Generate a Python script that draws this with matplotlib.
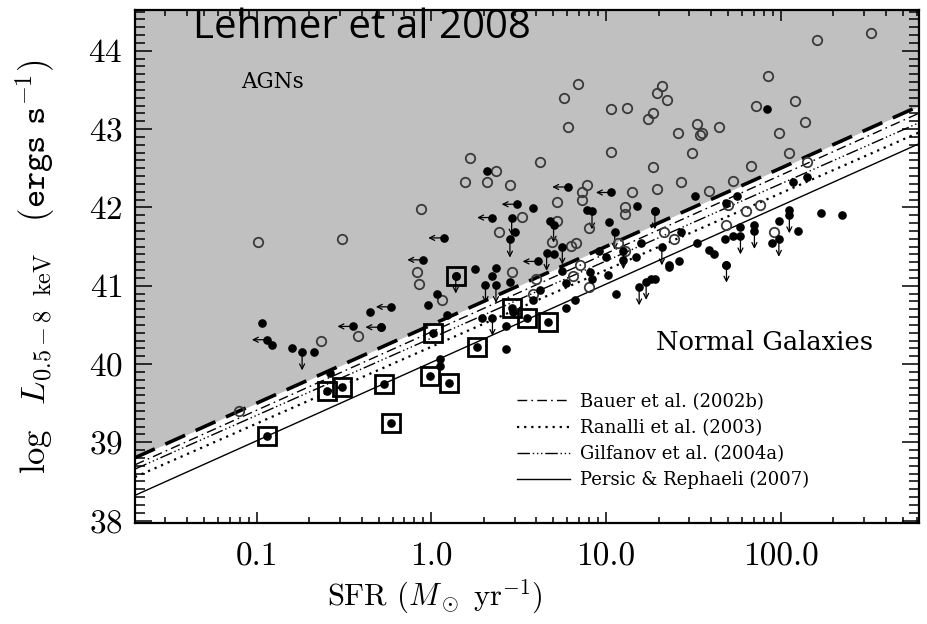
"""
Lehmer et al. 2008 -- 0.5-8 keV X-ray luminosity vs SFR.
AGN region shaded above the dashed line; literature relations below it.
"""

import matplotlib
matplotlib.use("Agg")
import matplotlib.pyplot as plt
import matplotlib.transforms as mtransforms
import numpy as np
from matplotlib.ticker import FixedLocator, LogLocator, MultipleLocator, NullFormatter

plt.rcParams["font.family"] = "serif"
plt.rcParams["font.serif"] = ["cmr10", "DejaVu Serif"]
plt.rcParams["mathtext.fontset"] = "cm"
plt.rcParams["axes.unicode_minus"] = False
plt.rcParams["axes.formatter.use_mathtext"] = True

# ---------------------------------------------------------------------------
# Data (log SFR in Msun/yr, log L_0.5-8keV in erg/s)
# ---------------------------------------------------------------------------
# open circles: X-ray classified AGNs
agn_log_sfr = [-0.99, -0.51, -1.10, -0.63, -0.42, -0.06, -0.08, -0.07, 0.06, 0.22,
               0.37, 0.19, 0.32, 0.45, 0.62, 0.84, 0.76, 0.78, 1.03, 1.12,
               1.03, 0.89, 0.86, 0.86, 0.72, 2.21, 2.52, 1.93, 1.32, 1.29,
               1.35, 1.27, 1.24, 1.86, 2.08, 2.14, 1.52, 1.55, 1.54, 1.65,
               1.41, 1.99, 1.49, 1.27, 2.05, 1.83, 1.43, 1.29, 1.15, 1.59,
               1.73, 2.15, 0.46, 0.52, 0.72, 0.39, 0.69, 0.80, 0.83, 0.90,
               1.11, 1.11, 1.11, 1.07, 1.33, 1.39, 0.85, 0.90, 0.81, 1.70,
               1.80, 1.88, 1.69, 1.96, 0.60, 0.58]
agn_logl = [41.56, 41.59, 39.40, 40.30, 40.36, 41.98, 41.17, 41.02, 40.82, 42.63,
            42.46, 42.32, 42.32, 42.29, 42.58, 43.58, 43.40, 43.03, 43.25, 43.27,
            42.71, 42.29, 42.20, 42.10, 42.07, 44.14, 44.22, 43.68, 43.55, 43.46,
            43.37, 43.21, 43.13, 43.30, 43.36, 43.09, 43.07, 42.95, 42.93, 43.03,
            42.95, 42.95, 42.70, 42.52, 42.69, 42.53, 42.33, 42.24, 42.19, 42.21,
            42.34, 42.58, 41.17, 41.88, 41.82, 41.68, 41.56, 41.51, 41.55, 41.74,
            42.00, 41.91, 41.44, 41.55, 41.68, 41.59, 41.27, 40.98, 41.12, 42.03,
            41.95, 42.03, 41.78, 41.69, 41.08, 40.90]

# filled circles: normal galaxies (detections)
gal_log_sfr = [-0.97, -0.91, -0.80, -0.67, -0.35, -0.58, 0.32, 0.58, 0.68, 0.48,
               0.89, 1.18, 1.02, 0.25, 0.37, 0.45, 0.35, 0.03, -0.02, 0.09,
               -0.29, 0.29, 0.43, 0.58, 0.47, 0.75, 0.77, 0.82, 0.77, 0.91,
               1.01, 0.92, 1.00, 1.10, 1.17, 1.20, 0.96, 1.06, 1.28, 1.36,
               0.43, 0.05, 0.05, 1.92, 1.28, 1.51, 1.75, 1.69, 2.07, 2.15,
               2.23, 2.05, 1.43, 1.36, 1.42, 1.59, 1.69, 1.52, 1.73, 1.77,
               1.85, 1.99, 1.68, 1.26, 2.35, 1.95, 2.10, 0.62, 0.70, 1.62]
gal_logl = [40.52, 40.24, 40.20, 40.15, 40.66, 39.89, 42.46, 41.99, 41.82, 41.69,
            41.97, 42.02, 41.81, 41.21, 41.23, 41.05, 41.12, 40.90, 40.75, 40.63,
            40.47, 40.59, 40.48, 40.82, 40.66, 41.19, 41.04, 40.82, 40.72, 41.18,
            41.14, 41.08, 41.36, 41.33, 41.36, 41.55, 41.44, 40.89, 41.08, 41.27,
            40.19, 40.06, 39.98, 43.26, 41.96, 42.15, 42.15, 42.05, 42.32, 42.39,
            41.93, 41.97, 41.68, 41.24, 41.31, 41.46, 41.27, 41.55, 41.63, 41.75,
            41.78, 41.82, 41.59, 41.08, 41.90, 41.55, 41.70, 40.95, 41.40, 41.40]

# filled circles with left arrows: SFR upper limits
sfrlim_log_sfr = [-0.94, -0.23, -0.45, -0.29, 0.07, 0.35, 0.49, 0.78, 1.03, 0.61, -0.05]
sfrlim_logl = [40.31, 40.73, 40.48, 40.47, 41.61, 41.87, 42.04, 42.26, 42.19, 41.31, 41.33]

# filled circles with down arrows: luminosity upper limits
lxlim_log_sfr = [-0.74, 0.46, 0.70, 0.45, 0.92, 1.28, 1.05, 0.66, 0.75, 0.31,
                 0.37, 0.35, 1.10, 1.19, 1.23, 1.32, 1.69, 1.77, 1.85, 1.99,
                 2.05, 0.14]
lxlim_logl = [40.15, 41.87, 41.78, 41.59, 41.95, 41.95, 41.69, 41.42, 41.50, 41.01,
              41.01, 40.59, 41.44, 40.98, 41.05, 41.49, 41.27, 41.63, 41.70, 41.60,
              41.90, 41.13]

# boxed points
box_log_sfr = [-0.94, -0.60, -0.51, -0.27, -0.23, -0.01, 0.10, 0.01, 0.26, 0.14,
               0.46, 0.55, 0.67]
box_logl = [39.08, 39.66, 39.71, 39.75, 39.25, 39.85, 39.76, 40.39, 40.22, 41.13,
            40.72, 40.59, 40.53]

# dividing line AGN / normal galaxies, and literature relations
agn_slope, agn_zero = 1.0, 40.50
relation_labels = ["Bauer et al. (2002b)", "Ranalli et al. (2003)",
                   "Gilfanov et al. (2004a)", "Persic & Rephaeli (2007)"]
relation_slopes = [1.0, 0.98, 0.985, 1.0]
relation_zeros = [40.41, 40.22, 40.33, 40.02]
relation_styles = [(0, (7, 3, 1.2, 3)), (0, (1, 2.2)), (0, (9, 2, 1, 2, 1, 2, 1, 2)), "-"]
relation_widths = [1.0, 1.6, 1.0, 1.0]

x_ticks = [0.1, 1.0, 10.0, 100.0]
x_tick_labels = ["0.1", "1.0", "10.0", "100.0"]
xlim = (0.0201, 620.0)
ylim = (37.97, 44.52)

# ---------------------------------------------------------------------------
fig = plt.figure(figsize=(9.28, 6.24), dpi=100)
ax = fig.add_axes([135 / 928, 101 / 624, 784 / 928, 513 / 624])
ax.set_xscale("log")
ax.set_xlim(*xlim)
ax.set_ylim(*ylim)

# grey AGN region above the dividing line
sfr_edges = np.array(xlim)
agn_line = agn_zero + agn_slope * np.log10(sfr_edges)
ax.fill_between(sfr_edges, agn_line, ylim[1], color="#c0c0c0", lw=0, zorder=0)
ax.plot(sfr_edges, agn_line, color="black", lw=2.6, ls=(0, (6, 3.2)), zorder=2)

for lab, m, b, st, w in zip(relation_labels, relation_slopes, relation_zeros,
                            relation_styles, relation_widths):
    ax.plot(sfr_edges, b + m * np.log10(sfr_edges), color="black", ls=st, lw=w,
            label=lab, zorder=2)

# arrows for limits (lengths in points, drawn from each point)
def limit_arrows(log_sfr, logl, dx, dy):
    shift = mtransforms.ScaledTranslation(dx / 72, dy / 72, fig.dpi_scale_trans)
    for s, l in zip(log_sfr, logl):
        ax.annotate("", xy=(10 ** s, l), xycoords=ax.transData + shift,
                    xytext=(10 ** s, l), textcoords="data",
                    arrowprops=dict(arrowstyle="->", lw=0.9, color="black",
                                    shrinkA=0, shrinkB=0, mutation_scale=9),
                    zorder=3)

limit_arrows(sfrlim_log_sfr, sfrlim_logl, -11, 0)
limit_arrows(lxlim_log_sfr, lxlim_logl, 0, -13)

ax.plot(10 ** np.array(agn_log_sfr), agn_logl, "o", ms=6.8, mfc="none", mec="#3a3a3a",
        mew=1.3, zorder=3)
ax.plot(10 ** np.array(gal_log_sfr), gal_logl, "o", ms=5.2, color="black", zorder=4)
ax.plot(10 ** np.array(sfrlim_log_sfr), sfrlim_logl, "o", ms=5.2, color="black", zorder=4)
ax.plot(10 ** np.array(lxlim_log_sfr), lxlim_logl, "o", ms=5.2, color="black", zorder=4)
ax.plot(10 ** np.array(box_log_sfr), box_logl, "o", ms=5.2, color="black", zorder=4)
ax.plot(10 ** np.array(box_log_sfr), box_logl, "s", ms=13, mfc="none", mec="black",
        mew=2.0, zorder=4)

# axes cosmetics
ax.xaxis.set_major_locator(FixedLocator(x_ticks))
ax.set_xticklabels(x_tick_labels)
ax.xaxis.set_minor_locator(LogLocator(base=10, subs=np.arange(2, 10)))
ax.xaxis.set_minor_formatter(NullFormatter())
ax.yaxis.set_major_locator(MultipleLocator(1))
ax.yaxis.set_minor_locator(MultipleLocator(0.1))
ax.tick_params(axis="both", which="both", direction="in", top=True, right=True,
               width=1.1, labelsize=24)
ax.tick_params(axis="x", which="major", length=8, pad=14)
ax.tick_params(axis="x", which="minor", length=4.5)
ax.tick_params(axis="y", which="major", length=12, pad=9)
ax.tick_params(axis="y", which="minor", length=7)
for sp in ax.spines.values():
    sp.set_linewidth(1.6)

ax.set_xlabel(r"SFR $(M_\odot\ {\rm yr}^{-1})$", fontsize=22)
ax.xaxis.set_label_coords(0.383, -0.106)
ax.set_ylabel(r"$\log\ \ L_{0.5-8\ \ {\rm keV}}\ \ \ (\mathtt{ergs\ s}^{-1})$", fontsize=25)
ax.yaxis.set_label_coords(-0.10, 0.5)

ax.text(0.135, 0.86, "AGNs", transform=ax.transAxes, family="DejaVu Serif",
        fontsize=15.5, va="center")
ax.text(0.665, 0.352, "Normal Galaxies", transform=ax.transAxes, family="DejaVu Serif",
        fontsize=18.5, va="center")

ax.legend(loc="upper left", bbox_to_anchor=(0.487, 0.254), frameon=False,
          prop={"family": "DejaVu Serif", "size": 13}, handlelength=2.95,
          handletextpad=0.55, labelspacing=0.45, borderaxespad=0, borderpad=0)

fig.text(193 / 928, 1 - 38 / 624, "Lehmer et al 2008", family="Open Sans", fontsize=29,
         va="baseline", ha="left")

fig.savefig("out.png", dpi=100)
